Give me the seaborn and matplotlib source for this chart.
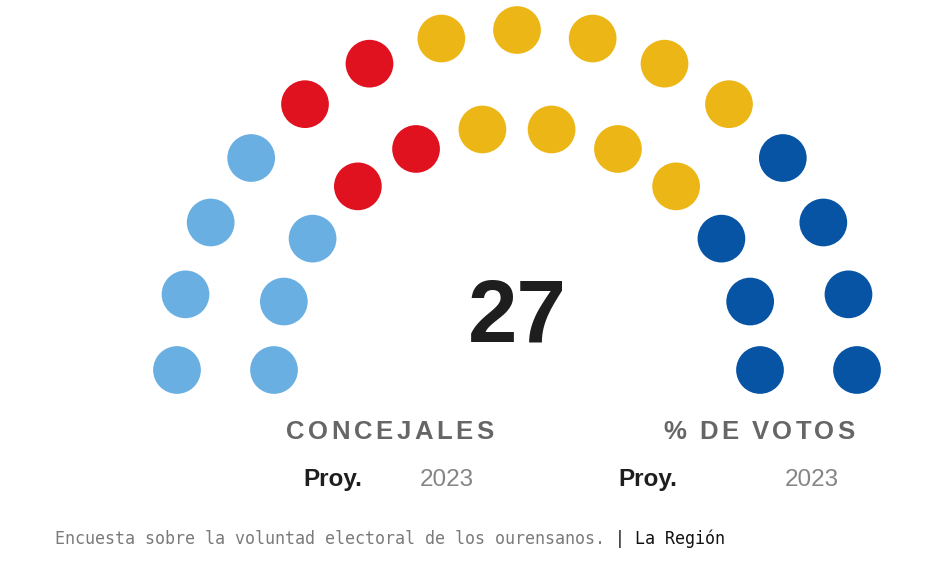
import matplotlib.pyplot as plt
import seaborn as sns
import pandas as pd
import numpy as np

# seats per party, ordered left to right around the hemicycle
parties = ['PP_light', 'PSOE', 'DO', 'PP']
seats = [7, 4, 9, 7]
colors = ['#6aafe2', '#e0121f', '#ecb716', '#0654a3']
row_sizes = [15, 12]          # outer row, inner row
total_seats = sum(seats)

title_left = 'CONCEJALES'
title_right = '% DE VOTOS'
sub_bold = 'Proy.'
sub_year = '2023'
caption = 'Encuesta sobre la voluntad electoral de los ourensanos.'
caption_src = '| La Región'

# layout (figure pixel space)
W, H = 930, 564
cx, cy = 517, 370
radii = [340, 243]
sans = 'Liberation Sans'


def hemicycle(rows, radii):
    pts = []
    for r_idx, (n, rad) in enumerate(zip(rows, radii)):
        ang = np.linspace(np.pi, 0, n)
        for a in ang:
            pts.append((a, r_idx, cx + rad * np.cos(a), cy - rad * np.sin(a)))
    df = pd.DataFrame(pts, columns=['angle', 'row', 'x', 'y'])
    df = df.sort_values(['angle', 'row'], ascending=[False, True]).reset_index(drop=True)
    return df


def tracked_text(ax, x, y, s, size, tracking, **kw):
    """Draw text char by char with extra letter spacing (tracking in em)."""
    gap = tracking * size
    space_w = 0.278 * size
    prev = None
    extra = 0.0
    for ch in s:
        if ch == ' ':
            extra += space_w + gap
            continue
        if prev is None:
            prev = ax.text(x, y, ch, ha='left', va='baseline', fontsize=size, **kw)
        else:
            prev = ax.annotate(ch, xy=(1, 0), xycoords=prev, xytext=(gap + extra, 0),
                               textcoords='offset points', ha='left', va='bottom',
                               fontsize=size, **kw)
        extra = 0.0


seat_df = hemicycle(row_sizes, radii)
seat_df['party'] = np.repeat(parties, seats)

fig = plt.figure(figsize=(W / 100, H / 100), dpi=100)
fig.patch.set_facecolor('white')
ax = fig.add_axes([0, 0, 1, 1])
ax.set_xlim(0, W)
ax.set_ylim(H, 0)
ax.set_axis_off()

sns.scatterplot(data=seat_df, x='x', y='y', hue='party',
                palette=dict(zip(parties, colors)), s=1180,
                linewidth=0, legend=False, ax=ax)

ax.text(cx, 341, str(total_seats), ha='center', va='baseline',
        fontsize=64, fontweight='bold', color='#1e1e1e', family=sans)

tracked_text(ax, 286, 439, title_left, 18.5, 0.135,
             fontweight='bold', color='#666666', family=sans)
tracked_text(ax, 663, 439, title_right, 18.5, 0.125,
             fontweight='bold', color='#666666', family=sans)

for xb, xyr in [(303, 420), (618, 785)]:
    ax.text(xb, 486, sub_bold, ha='left', va='baseline', fontsize=17.5,
            fontweight='bold', color='#1e1e1e', family=sans)
    ax.text(xyr, 486, sub_year, ha='left', va='baseline', fontsize=17.5,
            color='#858585', family=sans)

t1 = ax.text(55, 544, caption, ha='left', va='baseline', fontsize=12,
             color='#7a7a7a', family='DejaVu Sans Mono')
ax.annotate(caption_src, xy=(1, 0), xycoords=t1, xytext=(7.22, 0),
            textcoords='offset points', ha='left', va='bottom',
            fontsize=12, color='#111111', family='DejaVu Sans Mono')

fig.savefig('out.png', dpi=100, facecolor='white')
